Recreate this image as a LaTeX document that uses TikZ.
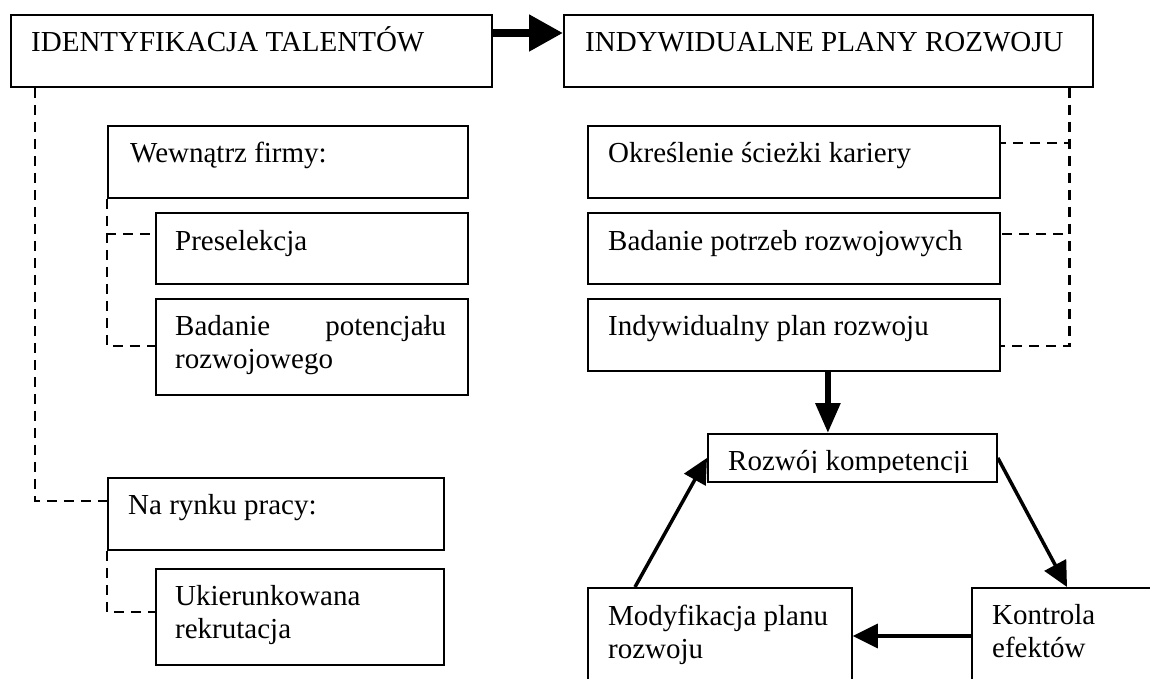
\documentclass[tikz,border=0pt]{standalone}
\usepackage{fontspec}
\setmainfont{Liberation Serif}
\usetikzlibrary{arrows.meta,calc}
\begin{document}
\begin{tikzpicture}[x=1pt,y=-1pt,
  box/.style={draw=black,line width=1.8pt,inner sep=0pt,anchor=north west},
  txt/.style={inner sep=0pt,anchor=base west,font=\fontsize{29}{33}\selectfont,align=left},
  conn/.style={draw=black,line width=2.8pt,dash pattern=on 10pt off 7pt},
  bigarrow/.style={draw=black,line width=8pt,-{Triangle[length=34pt,width=35pt]}},
  downarrow/.style={draw=black,line width=6pt,-{Triangle[length=30pt,width=24pt]}},
  cyclearrow/.style={draw=black,line width=3.5pt,-{Triangle[length=25pt,width=24pt]}}
]
\useasboundingbox (0,0) rectangle (1150,679);
\clip (0,0) rectangle (1150,679);

% left column
\node[box,minimum width=481pt,minimum height=72pt] (ident) at (10,14) {};
\node[txt] (ident-t) at (31,52) {IDENTYFIKACJA TALENTÓW};

\node[box,minimum width=360pt,minimum height=72pt] (wew) at (107,125) {};
\node[txt] (wew-t) at (130,163) {Wewnątrz firmy:};

\node[box,minimum width=312pt,minimum height=71pt] (presel) at (155,212) {};
\node[txt] (presel-t) at (175,250) {Preselekcja};

\node[box,minimum width=312pt,minimum height=96pt] (badpot) at (155,298) {};
\node[txt] (badpot-t) at (175,368) {\makebox[271pt][l]{Badanie\hfill potencjału}\\rozwojowego};

\node[box,minimum width=336pt,minimum height=72pt] (rynek) at (107,477) {};
\node[txt] (rynek-t) at (128,514) {Na rynku pracy:};

\node[box,minimum width=288pt,minimum height=96pt] (ukier) at (155,568) {};
\node[txt] (ukier-t) at (175,638) {Ukierunkowana\\rekrutacja};

% right column
\node[box,minimum width=529pt,minimum height=72pt] (indyw) at (563,14) {};
\node[txt] (indyw-t) at (585,52) {INDYWIDUALNE PLANY ROZWOJU};

\node[box,minimum width=412pt,minimum height=72pt] (okr) at (587,125) {};
\node[txt] (okr-t) at (608,163) {Określenie ścieżki kariery};

\node[box,minimum width=412pt,minimum height=71pt] (badpotrz) at (587,212) {};
\node[txt] (badpotrz-t) at (608,250) {Badanie potrzeb rozwojowych};

\node[box,minimum width=412pt,minimum height=72pt] (indplan) at (587,298) {};
\node[txt] (indplan-t) at (608,335) {Indywidualny plan rozwoju};

% cycle
\node[box,minimum width=289pt,minimum height=48pt] (rozwoj) at (707,433) {};
\begin{scope}
  \clip (707,433) rectangle (996,472);
  \node[txt] (rozwoj-t) at (728,470) {Rozwój kompetencji};
\end{scope}

\node[box,minimum width=264pt,minimum height=130pt] (modyf) at (587,587) {};
\node[txt] (modyf-t) at (608,658) {Modyfikacja planu\\rozwoju};

\node[box,minimum width=220pt,minimum height=130pt] (kontr) at (971,587) {};
\node[txt] (kontr-t) at (992,657) {Kontrola\\efektów};

% dashed connectors
\draw[conn] ([xshift=25pt]ident.south west) |- ([yshift=-24pt]rynek.north west);
\draw[conn] (wew.south west) |- ([yshift=-22pt]presel.north west);
\draw[conn] (wew.south west) |- ([yshift=-48pt]badpot.north west);
\draw[conn] (rynek.south west) |- ([yshift=-44pt]ukier.north west);

\draw[conn] ([xshift=-24pt]indyw.south east) |- ([yshift=-18pt]okr.north east);
\draw[conn] ([xshift=-24pt]indyw.south east) |- ([yshift=-22pt]badpotrz.north east);
\draw[conn] ([xshift=-24pt]indyw.south east) |- ([yshift=-48pt]indplan.north east);

% arrows
\draw[bigarrow] ([yshift=-19pt]ident.north east) -- ([yshift=-19pt]indyw.north west);
\coordinate (dtop) at ($(indplan.south)+(34,0)$);
\draw[downarrow] (dtop) -- (dtop |- rozwoj.north);
\draw[cyclearrow] (rozwoj.east) -- ([xshift=96pt]kontr.north west);
\draw[cyclearrow] ([yshift=-49pt]kontr.north west) -- ([yshift=-49pt]modyf.north east);
\draw[cyclearrow] ([xshift=48pt]modyf.north west) -- (rozwoj.west);
\end{tikzpicture}
\end{document}
